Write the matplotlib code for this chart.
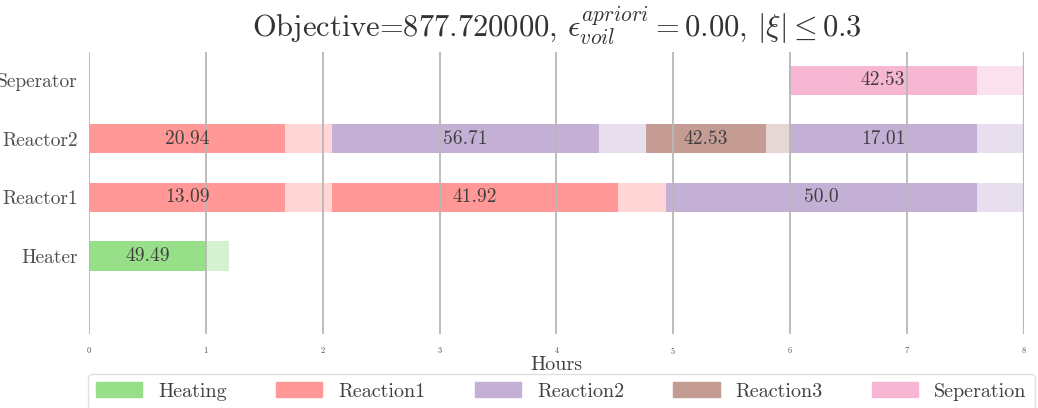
import numpy as np
import matplotlib
matplotlib.use("Agg")
import matplotlib.pyplot as plt
from matplotlib.patches import Patch

plt.rcParams['font.family'] = 'serif'
plt.rcParams['font.serif'] = ['cmr10']
plt.rcParams['mathtext.fontset'] = 'cm'
plt.rcParams['axes.formatter.use_mathtext'] = True

# units (y axis) and task types (legend)
units = ["Heater", "Reactor1", "Reactor2", "Seperator"]
tasks = ["Heating", "Reaction1", "Reaction2", "Reaction3", "Seperation"]
colors = ["#98df8a", "#ff9896", "#c5b0d5", "#c49c94", "#f7b6d2"]

# scheduled batches
bar_unit = ["Heater", "Reactor1", "Reactor1", "Reactor1",
            "Reactor2", "Reactor2", "Reactor2", "Reactor2", "Seperator"]
bar_task = ["Heating", "Reaction1", "Reaction1", "Reaction2",
            "Reaction1", "Reaction2", "Reaction3", "Reaction2", "Seperation"]
bar_start = [0.0, 0.0, 2.08, 4.94, 0.0, 2.08, 4.77, 5.99, 5.99]
bar_dur = [1.0, 1.68, 2.45, 2.66, 1.68, 2.28, 1.02, 1.61, 1.61]
bar_tail = [0.2, 0.40, 0.41, 0.40, 0.40, 0.41, 0.20, 0.40, 0.40]
bar_amount = [49.49, 13.09, 41.92, 50.0, 20.94, 56.71, 42.53, 17.01, 42.53]

horizon = 8

fig = plt.figure(figsize=(10.38, 4.08), dpi=100)
ax = fig.add_axes([0.0857, 0.181, 0.9008, 0.6915])

for u, t, s, d, tl, a in zip(bar_unit, bar_task, bar_start, bar_dur, bar_tail, bar_amount):
    y = units.index(u)
    c = colors[tasks.index(t)]
    ax.barh(y, d, left=s, height=0.5, color=c, zorder=1)
    ax.barh(y, tl, left=s + d, height=0.5, color=c, alpha=0.4, zorder=1)
    ax.text(s + d / 2, y, str(a), ha='center', va='center', fontsize=14,
            color='0.25', zorder=3)

ax.set_xlim(0, horizon)
ax.set_ylim(-1.33, 3.48)
ax.set_xticks(np.arange(0, horizon + 1))
ax.set_yticks(range(len(units)))
ax.set_yticklabels(units)
ax.tick_params(axis='x', length=0, labelsize=6, pad=8, labelcolor='0.3')
ax.tick_params(axis='y', length=0, labelsize=14, pad=8, labelcolor='0.3')
ax.grid(axis='x', color='#b8b8b8', lw=1.3, zorder=2)
ax.set_axisbelow(False)
ax.axvline(horizon, color='#9fb4c6', lw=1.6, zorder=2)
for sp in ax.spines.values():
    sp.set_visible(False)

ax.set_xlabel("Hours", fontsize=14.5, color='0.25', labelpad=0)
ax.set_title(r"Objective=877.720000, $\epsilon_{voil}^{apriori} = 0.00$, $|\xi| \leq 0.3$",
             fontsize=22, color='0.2', pad=11)

handles = [Patch(color=c, label=t) for c, t in zip(colors, tasks)]
fig.legend(handles=handles, loc='upper left', ncol=5, mode='expand',
           bbox_to_anchor=(0.0848, 0.0835, 0.912, 0), fontsize=14.5,
           handlelength=2.3, handleheight=0.8, frameon=True, edgecolor='0.85',
           labelcolor='0.25', borderaxespad=0)

fig.savefig("out.png", dpi=100)
